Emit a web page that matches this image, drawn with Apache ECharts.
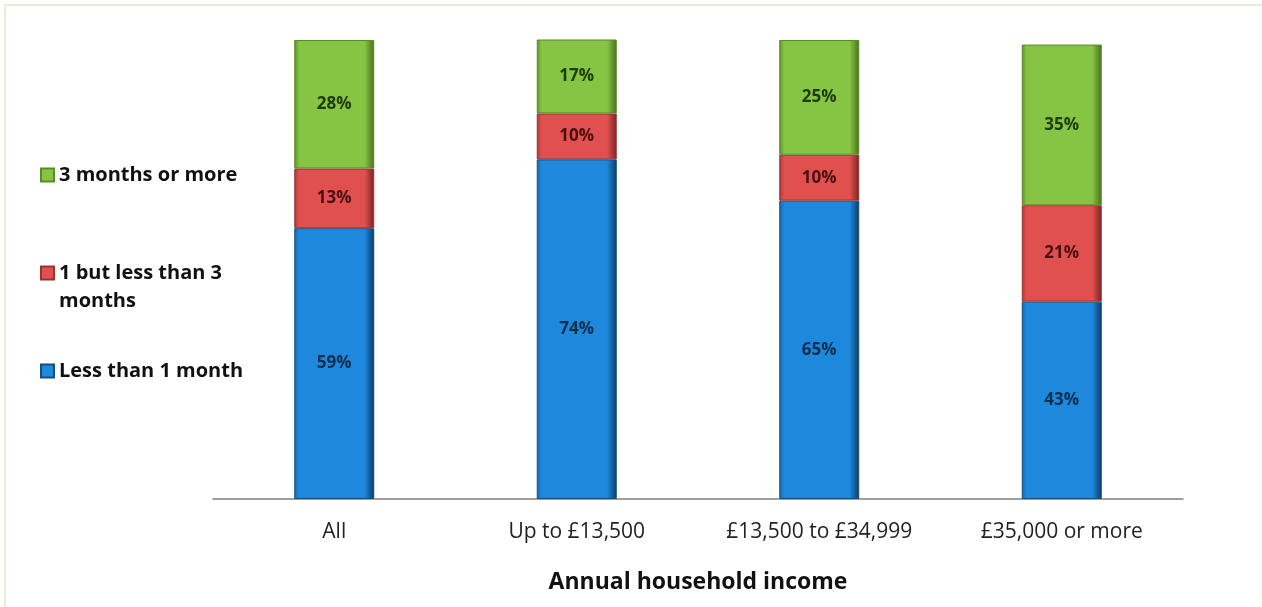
<!DOCTYPE html>
<html>
<head>
<meta charset="utf-8">
<script src="https://cdn.jsdelivr.net/npm/echarts@6/dist/echarts.min.js"></script>
<style>
  html, body { margin: 0; padding: 0; background: #fff; }
  #chart { width: 1262px; height: 607px; }
</style>
</head>
<body>
<div id="chart"></div>
<script>
// 数据
var categories = ['All', 'Up to £13,500', '£13,500 to £34,999', '£35,000 or more']
var lessThan1 = [59, 74, 65, 43]
var oneToThree = [13, 10, 10, 21]
var threePlus = [28, 17, 25, 35]

var NAMES = ['Less than 1 month', '1 but less than 3 months', '3 months or more']

// 横向渐变，模拟 Excel 的立体柱子
function barFill(edge, mid, dark) {
  return new echarts.graphic.LinearGradient(0, 0, 1, 0, [
    { offset: 0, color: edge },
    { offset: 0.06, color: mid },
    { offset: 0.88, color: mid },
    { offset: 1, color: dark }
  ])
}

function makeSeries(name, data, fill, border, labelColor) {
  return {
    name: name,
    type: 'bar',
    stack: 'total',
    barWidth: 80,
    data: data,
    itemStyle: { color: fill, borderColor: border, borderWidth: 1 },
    label: {
      show: true,
      position: 'inside',
      formatter: '{c}%',
      color: labelColor,
      fontFamily: 'Open Sans',
      fontWeight: 'bold',
      fontSize: 17
    }
  }
}

var chart = echarts.init(document.getElementById('chart'))

var legendText = {
  fontFamily: 'Open Sans',
  fontWeight: 'bold',
  fontSize: 20,
  color: '#111',
  lineHeight: 28
}

function legendAt(top, name, fmt) {
  var l = {
    left: 35, top: top, orient: 'vertical',
    itemWidth: 13, itemHeight: 13, itemGap: 0,
    icon: 'rect',
    data: [name],
    textStyle: legendText
  }
  if (fmt) l.formatter = fmt
  return l
}

var option = {
  animation: false,
  backgroundColor: '#fff',
  graphic: [
    {
      type: 'rect',
      shape: { x: 5, y: 5, width: 1300, height: 700 },
      style: { fill: 'none', stroke: '#e3efd6', lineWidth: 2 },
      silent: true,
      z: -1
    }
  ],
  legend: [
    legendAt(156, NAMES[2]),
    // 空的首行让图标对齐第一行文字
    legendAt(226, NAMES[1], function () { return ' \n1 but less than 3\nmonths' }),
    legendAt(352, NAMES[0])
  ],
  grid: { left: 213, right: 79, top: 40, bottom: 108 },
  xAxis: {
    type: 'category',
    data: categories,
    axisLine: { lineStyle: { color: '#808080', width: 1.5 } },
    axisTick: { show: false },
    axisLabel: {
      margin: 23,
      fontFamily: 'Open Sans',
      fontSize: 21,
      color: '#222'
    },
    name: 'Annual household income',
    nameLocation: 'middle',
    nameGap: 72,
    nameTextStyle: {
      fontFamily: 'Open Sans',
      fontWeight: 'bold',
      fontSize: 23,
      color: '#111'
    }
  },
  yAxis: {
    type: 'value',
    min: 0,
    max: 100,
    show: false
  },
  series: [
    makeSeries(NAMES[0], lessThan1, barFill('#1768a8', '#1d88dc', '#0b3a63'), '#124f80', '#0d2f4f'),
    makeSeries(NAMES[1], oneToThree, barFill('#a83a3c', '#e0504f', '#7a2223'), '#9a3233', '#4a0f10'),
    makeSeries(NAMES[2], threePlus, barFill('#5e8e2c', '#86c443', '#46711c'), '#5a8a2a', '#1f3a0b')
  ]
}

chart.setOption(option)
</script>
</body>
</html>
